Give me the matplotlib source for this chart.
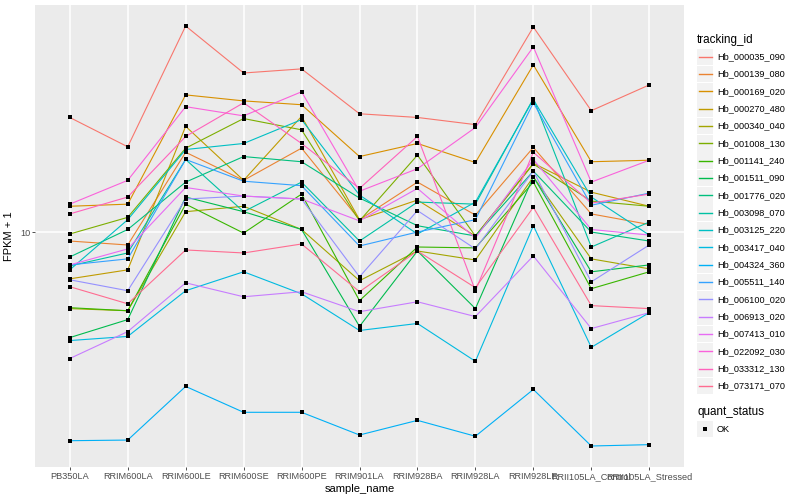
import matplotlib
matplotlib.use("Agg")
import matplotlib.pyplot as plt
from matplotlib.patches import Rectangle

plt.rcParams['font.family'] = ['Liberation Sans', 'DejaVu Sans']

samples = ['PB350LA', 'RRIM600LA', 'RRIM600LE', 'RRIM600SE', 'RRIM600PE', 'RRIM901LA',
           'RRIM928BA', 'RRIM928LA', 'RRIM928LE', 'RRII105LA_Control', 'RRII105LA_Stressed']

tracking_ids = ['Hb_000035_090', 'Hb_000139_080', 'Hb_000169_020', 'Hb_000270_480',
                'Hb_000340_040', 'Hb_001008_130', 'Hb_001141_240', 'Hb_001511_090',
                'Hb_001776_020', 'Hb_003098_070', 'Hb_003125_220', 'Hb_003417_040',
                'Hb_004324_360', 'Hb_005511_140', 'Hb_006100_020', 'Hb_006913_020',
                'Hb_007413_010', 'Hb_022092_030', 'Hb_033312_130', 'Hb_073171_070']

# FPKM + 1, one list per gene, in sample order
hb_000035_090 = [24.2, 19.3, 49.0, 34.1, 35.2, 24.9, 24.2, 22.9, 48.6, 25.5, 31.1]
hb_000139_080 = [9.33, 9.05, 18.5, 14.9, 19.1, 11.0, 14.7, 11.4, 19.2, 11.5, 10.6]
hb_000169_020 = [12.2, 12.4, 28.8, 27.5, 26.7, 17.9, 19.8, 17.1, 36.3, 17.2, 17.4]
hb_000270_480 = [6.97, 7.47, 22.6, 14.9, 24.4, 11.0, 12.8, 9.70, 17.0, 13.6, 12.2]
hb_000340_040 = [5.54, 5.45, 11.7, 12.2, 10.2, 6.87, 8.64, 8.06, 15.3, 8.13, 7.53]
hb_001008_130 = [9.85, 11.2, 19.1, 24.0, 22.0, 10.9, 18.1, 9.70, 16.9, 12.7, 12.2]
hb_001141_240 = [5.58, 5.45, 12.4, 9.92, 13.4, 5.89, 8.91, 8.85, 14.7, 6.46, 7.36]
hb_001511_090 = [4.43, 5.09, 13.1, 11.7, 10.2, 4.83, 8.64, 5.54, 15.3, 7.36, 7.76]
hb_001776_020 = [8.25, 10.2, 14.7, 17.9, 17.2, 13.0, 10.5, 9.70, 16.0, 10.0, 9.33]
hb_003098_070 = [7.70, 8.51, 17.5, 11.7, 14.7, 9.33, 12.6, 12.4, 28.0, 8.91, 10.8]
hb_003125_220 = [7.47, 11.0, 18.9, 19.8, 23.8, 13.3, 9.85, 12.6, 27.8, 13.1, 9.77]
hb_003417_040 = [4.33, 4.47, 6.36, 7.36, 6.21, 4.68, 4.94, 3.69, 10.5, 4.11, 5.37]
hb_004324_360 = [2.00, 2.01, 3.04, 2.49, 2.49, 2.09, 2.34, 2.07, 2.97, 1.92, 1.94]
hb_005511_140 = [7.76, 8.13, 17.5, 14.8, 14.3, 8.98, 10.0, 11.0, 27.1, 12.3, 13.5]
hb_006100_020 = [6.92, 6.36, 12.9, 13.2, 12.9, 7.08, 11.8, 8.78, 16.0, 6.81, 9.05]
hb_006913_020 = [3.77, 4.64, 6.76, 6.07, 6.31, 5.41, 5.84, 5.21, 8.32, 4.75, 5.37]
hb_007413_010 = [7.76, 8.78, 14.1, 13.2, 12.9, 10.9, 14.0, 9.55, 17.5, 10.2, 9.77]
hb_022092_030 = [12.4, 14.9, 26.3, 24.5, 29.5, 13.7, 16.3, 22.4, 41.7, 14.7, 17.4]
hb_033312_130 = [11.5, 13.1, 20.9, 27.1, 19.8, 14.0, 20.9, 6.36, 18.5, 12.5, 13.4]
hb_073171_070 = [6.56, 5.75, 8.71, 8.51, 9.12, 6.31, 8.64, 6.51, 12.1, 5.67, 5.54]

series = [hb_000035_090, hb_000139_080, hb_000169_020, hb_000270_480, hb_000340_040,
          hb_001008_130, hb_001141_240, hb_001511_090, hb_001776_020, hb_003098_070,
          hb_003125_220, hb_003417_040, hb_004324_360, hb_005511_140, hb_006100_020,
          hb_006913_020, hb_007413_010, hb_022092_030, hb_033312_130, hb_073171_070]

# ggplot default hue palette for 20 groups
colors = ['#F8766D', '#EA8331', '#D89000', '#C09B00', '#A3A500', '#7CAE00', '#39B600',
          '#00BB4E', '#00BF7D', '#00C1A3', '#00BFC4', '#00BAE0', '#00B0F6', '#35A2FF',
          '#9590FF', '#C77CFF', '#E76BF3', '#FA62DB', '#FF62BC', '#FF6C91']

fig = plt.figure(figsize=(8, 5), dpi=100)
ax = fig.add_axes([35 / 800, 33 / 500, 649 / 800, 462 / 500])
ax.set_facecolor('#EBEBEB')
for s in ax.spines.values():
    s.set_visible(False)

x = list(range(len(samples)))
for vals, col in zip(series, colors):
    ax.plot(x, vals, color=col, lw=0.8, zorder=2)
for vals in series:
    ax.plot(x, vals, ls='none', marker='s', ms=2.8, mew=0, color='black', zorder=3)

ax.set_yscale('log')
lo = min(min(v) for v in series)
hi = max(max(v) for v in series)
pad = (hi / lo) ** 0.05
ax.set_ylim(lo / pad, hi * pad)
ax.set_xlim(-0.6, len(samples) - 0.4)
ax.set_yticks([10], ['10'])
ax.set_yticks([], minor=True)
ax.set_xticks(x, samples)
ax.grid(color='white', lw=1.1)
ax.set_axisbelow(True)
ax.tick_params(length=2, width=0.6, color='#333333', labelcolor='#4D4D4D',
               labelsize=6.6, pad=1.5)
ax.set_xlabel('sample_name', fontsize=8, labelpad=2)
ax.set_ylabel('FPKM + 1', fontsize=8, labelpad=4)

# legend drawn in pixel space
lax = fig.add_axes([0, 0, 1, 1], zorder=5)
lax.set_xlim(0, 800)
lax.set_ylim(500, 0)
lax.axis('off')
lax.text(697, 40, 'tracking_id', fontsize=8.4, va='center', ha='left')
step = 17.33
for i, (name, col) in enumerate(zip(tracking_ids, colors)):
    yc = 56.7 + i * step
    lax.add_patch(Rectangle((697, yc - 8.2), 16.4, 16.4, fc='#F2F2F2', ec='none', zorder=1))
    lax.plot([698.5, 711.5], [yc, yc], color=col, lw=1.0, zorder=3)
    lax.text(717, yc, name, fontsize=6.6, va='center', ha='left')
lax.text(697, 412.5, 'quant_status', fontsize=8.4, va='center', ha='left')
lax.add_patch(Rectangle((697, 429 - 8.2), 16.4, 16.4, fc='#F2F2F2', ec='none', zorder=1))
lax.plot([705], [429], marker='s', ms=2.8, mew=0, color='black', ls='none', zorder=3)
lax.text(717, 429, 'OK', fontsize=6.6, va='center', ha='left')

fig.savefig('out.png', dpi=100)
